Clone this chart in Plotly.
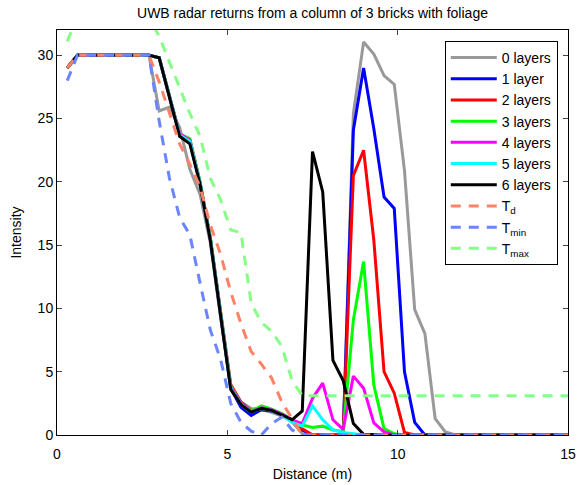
import plotly.graph_objects as go

distance = [0.3, 0.6, 0.9, 1.2, 1.5, 1.8, 2.1, 2.4, 2.7, 3.0,
            3.3, 3.6, 3.9, 4.2, 4.5, 4.8, 5.1, 5.4, 5.7, 6.0,
            6.3, 6.6, 6.9, 7.2, 7.5, 7.8, 8.1, 8.4, 8.7, 9.0,
            9.3, 9.6, 9.9, 10.2, 10.5, 10.8, 11.1, 11.4, 11.7, 12.0,
            12.3, 12.6, 12.9, 13.2, 13.5, 13.8, 14.1, 14.4, 14.7, 15.0]

layers0 = [29, 30, 30, 30, 30, 30, 30, 30, 30, 25.6,
           25.9, 24.3, 21.0, 19.0, 15.2, 9.3, 3.8, 2.6, 2.1, 2.0,
           1.8, 1.5, 1.05, 0.1, 0, 0, 0, 0, 25.4, 31.05,
           30.1, 28.4, 27.7, 20.9, 9.9, 8.0, 1.3, 0.25, 0, 0,
           0, 0, 0, 0, 0, 0, 0, 0, 0, 0]

layers1 = [29, 30, 30, 30, 30, 30, 30, 30, 30, 29.8,
           26.8, 23.7, 23.2, 19.9, 15.5, 9.6, 3.7, 2.2, 1.55, 2.0,
           1.9, 1.6, 1.15, 0.4, 0, 0, 0, 0, 24.1, 29.0,
           24.2, 18.8, 17.9, 5.0, 1.0, 0, 0, 0, 0, 0,
           0, 0, 0, 0, 0, 0, 0, 0, 0, 0]

layers2 = [29, 30, 30, 30, 30, 30, 30, 30, 30, 29.8,
           26.8, 23.7, 23.3, 19.9, 15.6, 9.8, 4.0, 2.6, 1.9, 2.1,
           1.95, 1.65, 1.2, 0.5, 0, 0, 0, 0, 20.5, 22.5,
           15.4, 5.0, 3.3, 0.2, 0, 0, 0, 0, 0, 0,
           0, 0, 0, 0, 0, 0, 0, 0, 0, 0]

layers3 = [29, 30, 30, 30, 30, 30, 30, 30, 30, 29.8,
           26.9, 23.8, 23.4, 20.0, 15.6, 9.8, 3.9, 2.5, 1.9, 2.3,
           2.05, 1.7, 1.2, 0.8, 0.6, 0.7, 0.4, 0.25, 9.1, 13.7,
           3.95, 0.5, 0.1, 0, 0, 0, 0, 0, 0, 0,
           0, 0, 0, 0, 0, 0, 0, 0, 0, 0]

layers4 = [29, 30, 30, 30, 30, 30, 30, 30, 30, 29.8,
           26.8, 23.8, 23.3, 19.9, 15.5, 9.7, 3.8, 2.5, 1.85, 2.15,
           2.0, 1.65, 1.2, 0.9, 2.9, 4.1, 1.2, 0.45, 4.65, 3.7,
           0.95, 0.25, 0, 0, 0, 0, 0, 0, 0, 0,
           0, 0, 0, 0, 0, 0, 0, 0, 0, 0]

layers5 = [29, 30, 30, 30, 30, 30, 30, 30, 30, 29.8,
           26.8, 23.7, 23.2, 19.9, 15.5, 9.6, 3.7, 2.4, 1.8, 2.1,
           1.95, 1.6, 1.0, 0.7, 2.3, 1.2, 0.4, 0.2, 0.1, 0,
           0, 0, 0, 0, 0, 0, 0, 0, 0, 0,
           0, 0, 0, 0, 0, 0, 0, 0, 0, 0]

layers6 = [29, 30, 30, 30, 30, 30, 30, 30, 30, 29.8,
           26.7, 23.6, 23.0, 19.8, 15.4, 9.5, 3.6, 2.4, 1.8, 2.1,
           1.95, 1.6, 1.2, 1.9, 22.4, 19.2, 5.9, 4.3, 0.9, 0.05,
           0, 0, 0, 0, 0, 0, 0, 0, 0, 0,
           0, 0, 0, 0, 0, 0, 0, 0, 0, 0]

t_d = [29, 30, 30, 30, 30, 30, 30, 30, 30, 27.9,
       25.5, 23.0, 21.4, 19.6, 16.6, 14.3, 11.3, 8.8, 6.6, 5.6,
       4.5, 2.6, 1.3, 0, 0, 0, 0, 0, 0, 0,
       0, 0, 0, 0, 0, 0, 0, 0, 0, 0,
       0, 0, 0, 0, 0, 0, 0, 0, 0, 0]

t_min = [28, 30, 30, 30, 30, 30, 30, 30, 30, 24.8,
         20.3, 17.2, 15.8, 12.0, 8.3, 6.0, 2.5, 1.0, 0.3, 0,
         0.9, 1.4, 0.4, 0, 0, 0, 0, 0, 0, 0,
         0, 0, 0, 0, 0, 0, 0, 0, 0, 0,
         0, 0, 0, 0, 0, 0, 0, 0, 0, 0]

t_max = [31.1, 33, 33, 33, 33, 33, 33, 33, 33, 31.5,
         29.5, 27.4, 25.4, 23.6, 20.3, 18.6, 16.2, 16.0, 10.4, 8.9,
         8.2, 7.0, 4.3, 3.1, 3.1, 3.1, 3.1, 3.1, 3.1, 3.1,
         3.1, 3.1, 3.1, 3.1, 3.1, 3.1, 3.1, 3.1, 3.1, 3.1,
         3.1, 3.1, 3.1, 3.1, 3.1, 3.1, 3.1, 3.1, 3.1, 3.1]

series_names = ["0 layers", "1 layer", "2 layers", "3 layers", "4 layers",
                "5 layers", "6 layers", "T<sub>d</sub>", "T<sub>min</sub>", "T<sub>max</sub>"]
series_values = [layers0, layers1, layers2, layers3, layers4, layers5, layers6,
                 t_d, t_min, t_max]
series_colors = ["#999999", "#0000FF", "#FF0000", "#00FF00", "#FF00FF", "#00FFFF",
                 "#000000", "#FF8266", "#6A85FF", "#85FF85"]
series_dash = ["solid"] * 7 + ["10px,8px"] * 3

fig = go.Figure()
for name, vals, col, dash in zip(series_names, series_values, series_colors, series_dash):
    fig.add_trace(go.Scatter(x=distance, y=vals, mode="lines", name=name,
                             line=dict(color=col, width=3, dash=dash)))

font_family = "Liberation Sans, Arial, Helvetica, sans-serif"
fig.update_layout(
    width=578, height=485,
    margin=dict(l=57, r=10, t=30, b=50),
    paper_bgcolor="white", plot_bgcolor="white",
    font=dict(family=font_family, size=14, color="black"),
    title=dict(text="UWB radar returns from a column of 3 bricks with foliage",
               x=0.5, xref="paper", xanchor="center",
               y=0.972, yref="container", yanchor="middle",
               font=dict(size=14)),
    xaxis=dict(range=[0, 15], tickvals=[0, 5, 10, 15], ticks="inside", ticklen=5,
               showline=True, linecolor="black", linewidth=1, mirror="ticks",
               showgrid=False, zeroline=False, automargin=False,
               ticklabelstandoff=6,
               title=dict(text="Distance (m)", standoff=8, font=dict(size=14))),
    yaxis=dict(range=[0, 32], tickvals=[0, 5, 10, 15, 20, 25, 30], ticks="inside", ticklen=5,
               showline=True, linecolor="black", linewidth=1, mirror="ticks",
               showgrid=False, zeroline=False, automargin=False,
               title=dict(text="Intensity", standoff=12, font=dict(size=14))),
    legend=dict(x=0.98, y=0.973, xanchor="right", yanchor="top",
                bordercolor="black", borderwidth=1, bgcolor="white",
                itemwidth=46, entrywidth=74, font=dict(size=14)),
    showlegend=True,
)

fig.write_html("out.html", config={"displayModeBar": False},
               post_script="document.body.style.margin='0px';")
